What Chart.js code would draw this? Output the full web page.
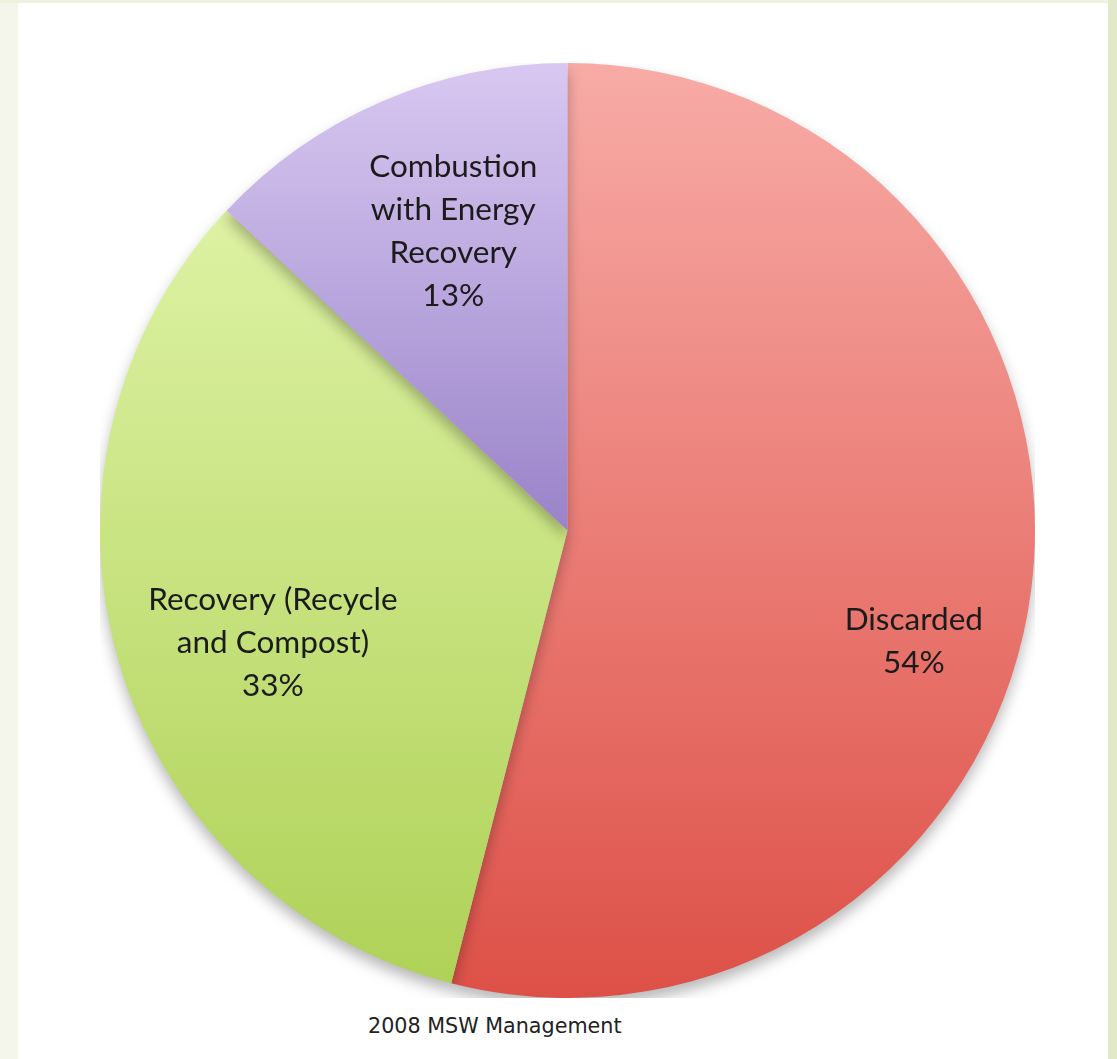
<!DOCTYPE html>
<html>
<head>
<meta charset="utf-8">
<script src="https://cdn.jsdelivr.net/npm/chart.js@4/dist/chart.umd.min.js"></script>
<style>
  html, body { margin: 0; padding: 0; }
  body { width: 1117px; height: 1059px; position: relative; overflow: hidden; background: #f4f6ec; }
  #topStrip { position: absolute; left: 0; top: 0; width: 1117px; height: 3px; background: #eef2de; }
  #rightStrip { position: absolute; left: 1108px; top: 0; width: 9px; height: 1059px; background: #e2e9c9; }
  #panel { position: absolute; left: 18px; top: 3px; width: 1090px; height: 1056px; background: #ffffff; }
  #chartBox { position: absolute; left: 100px; top: 63px; width: 935px; height: 935px; }
  #caption { position: absolute; left: 368px; top: 1014px; font-family: "DejaVu Sans", sans-serif; font-size: 20.7px; color: #222; white-space: nowrap; }
</style>
</head>
<body>
<div id="topStrip"></div>
<div id="rightStrip"></div>
<div id="panel"></div>
<div id="chartBox"><canvas id="pieChart"></canvas></div>
<div id="caption">2008 MSW Management</div>
<script>
const categories = ['Discarded', 'Recovery (Recycle and Compost)', 'Combustion with Energy Recovery'];
const labelLines = [['Discarded'], ['Recovery (Recycle', 'and Compost)'], ['Combustion', 'with Energy', 'Recovery']];
const shares = [54, 33, 13];

// vertical gradient stops per slice (top of pie -> bottom of pie)
const gradStops = [
  [[0, '#f8aba6'], [1, '#dd5047']],
  [[0, '#e6f8b2'], [1, '#aed156']],
  [[0, '#d8c8f1'], [0.5, '#9a83c9'], [1, '#7c62b2']]
];
// label placement: fraction of radius, angle clockwise from 12 o'clock (deg)
const labelPlace = [[0.778, 107.8], [0.674, 249.2], [0.685, 339.1]];

function sliceFill(context) {
  const chart = context.chart;
  const area = chart.chartArea;
  const stops = gradStops[context.dataIndex];
  if (!area) return stops[0][1];
  const g = chart.ctx.createLinearGradient(0, area.top, 0, area.bottom);
  stops.forEach(s => g.addColorStop(s[0], s[1]));
  return g;
}

const shadowPlugin = {
  id: 'pieShadow',
  beforeDatasetsDraw(chart) {
    const ctx = chart.ctx;
    ctx.save();
    ctx.shadowColor = 'rgba(0,0,0,0.28)';
    ctx.shadowBlur = 14;
    ctx.shadowOffsetY = 8;
  },
  afterDatasetsDraw(chart) {
    chart.ctx.restore();
  }
};

const labelPlugin = {
  id: 'sliceLabels',
  afterDraw(chart) {
    const ctx = chart.ctx;
    const meta = chart.getDatasetMeta(0);
    ctx.save();
    ctx.font = '31.5px Lato, "Open Sans", sans-serif';
    ctx.fillStyle = '#1b1b1b';
    ctx.textAlign = 'center';
    ctx.textBaseline = 'middle';
    const lineH = 43;
    meta.data.forEach((arc, i) => {
      const p = arc.getProps(['x', 'y', 'outerRadius'], true);
      const [frac, deg] = labelPlace[i];
      const a = deg * Math.PI / 180;
      const cx = p.x + p.outerRadius * frac * Math.sin(a);
      const cy = p.y - p.outerRadius * frac * Math.cos(a);
      const lines = labelLines[i].concat([shares[i] + '%']);
      const y0 = cy - (lines.length - 1) * lineH / 2;
      lines.forEach((t, k) => ctx.fillText(t, cx, y0 + k * lineH));
    });
    ctx.restore();
  }
};

new Chart(document.getElementById('pieChart').getContext('2d'), {
  type: 'pie',
  data: {
    labels: categories,
    datasets: [{
      data: shares,
      backgroundColor: sliceFill,
      borderWidth: 0
    }]
  },
  options: {
    responsive: true,
    maintainAspectRatio: false,
    animation: false,
    layout: { padding: 0 },
    plugins: {
      legend: { display: false },
      tooltip: { enabled: false }
    }
  },
  plugins: [shadowPlugin, labelPlugin]
});
</script>
</body>
</html>
